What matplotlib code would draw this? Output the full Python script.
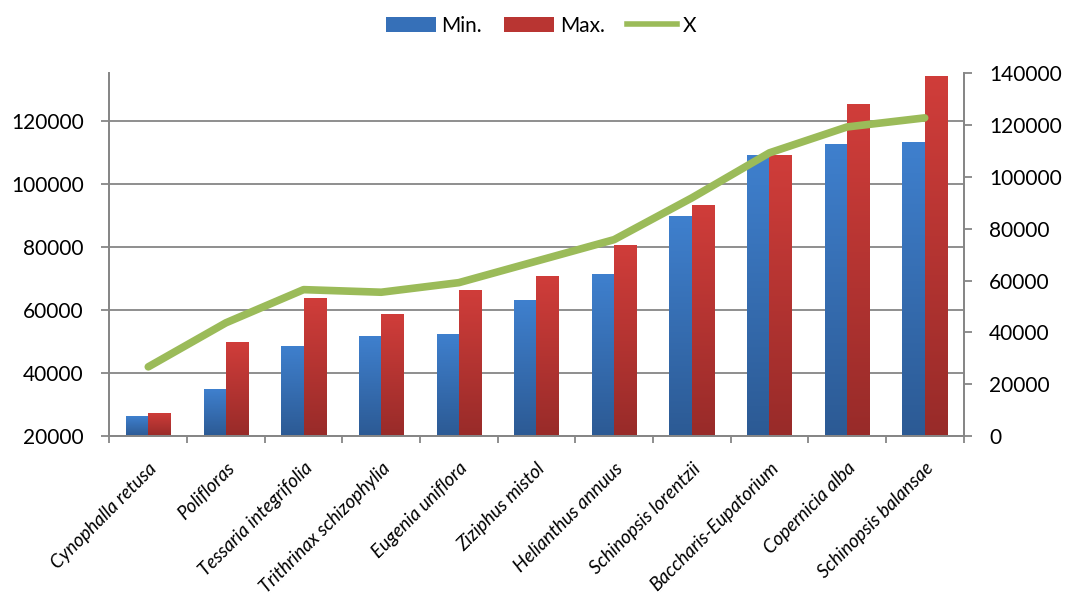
import numpy as np
import matplotlib.pyplot as plt
from matplotlib.colors import LinearSegmentedColormap
from matplotlib.patches import Patch
from matplotlib.lines import Line2D

plt.rcParams['font.family'] = ['Lato', 'DejaVu Sans']

species = ['Cynophalla retusa', 'Polifloras', 'Tessaria integrifolia',
           'Trithrinax schizophylia', 'Eugenia uniflora', 'Ziziphus mistol',
           'Helianthus annuus', 'Schinopsis lorentzii', 'Baccharis-Eupatorium',
           'Copernicia alba', 'Schinopsis balansae']
min_vals = [26200, 34900, 48600, 51600, 52500, 63000, 71300, 89700, 109000, 112700, 113100]
max_vals = [27400, 49800, 63700, 58600, 66400, 70800, 80500, 93300, 109000, 125200, 134300]
x_vals = [26700, 43700, 56500, 55500, 59200, 67500, 75800, 91900, 109300, 119300, 122800]

GRID = '#868686'
BLUE_CM = LinearSegmentedColormap.from_list('b', ['#2C5A94', '#3F80CE'])
RED_CM = LinearSegmentedColormap.from_list('r', ['#982B29', '#D03D3A'])


def gradient_bars(ax, xs, heights, width, cmap, base):
    bars = ax.bar(xs, np.array(heights) - base, width, bottom=base,
                  color=cmap(0.5), linewidth=0, zorder=2)
    grad = np.linspace(0, 1, 256).reshape(-1, 1)
    for b in bars:
        x0, y0 = b.get_x(), b.get_y()
        im = ax.imshow(grad, cmap=cmap, origin='lower', aspect='auto',
                       extent=[x0, x0 + b.get_width(), y0, y0 + b.get_height()],
                       zorder=2)
        im.set_clip_path(b)
    return bars


fig = plt.figure(figsize=(10.67, 5.99), dpi=100)
ax = fig.add_axes([0.1026, 0.2721, 0.8004, 0.6055])
ax2 = ax.twinx()

idx = np.arange(len(species))
w = 0.287
base = 20000
gradient_bars(ax, idx - w / 2, min_vals, w, BLUE_CM, base)
gradient_bars(ax, idx + w / 2, max_vals, w, RED_CM, base)

ax.set_xlim(-0.5, len(species) - 0.5)
ax.set_ylim(20000, 135000)
ax.set_yticks(np.arange(20000, 130000, 20000))
ax.grid(axis='y', color=GRID, linewidth=1.3, zorder=0)
ax.set_axisbelow(True)

ax2.plot(idx, x_vals, color='#9BBB59', linewidth=5.5, solid_capstyle='round',
         solid_joinstyle='round', zorder=3)
ax2.set_ylim(0, 140000)
ax2.set_yticks(np.arange(0, 140001, 20000))

ax.set_xticks(idx)
ax.set_xticklabels(species, rotation=45, ha='right', rotation_mode='anchor',
                   style='italic', fontsize=13.5)
ax.set_xticks(np.arange(-0.5, len(species), 1), minor=True)
ax.tick_params(axis='x', which='major', length=0, pad=17)
ax.tick_params(axis='x', which='minor', length=5, color=GRID, width=1.3)
ax.tick_params(axis='y', length=5.5, color=GRID, width=1.3, labelsize=15, pad=13)
ax2.tick_params(axis='y', length=5.5, color=GRID, width=1.3, labelsize=15, pad=13)

for a in (ax, ax2):
    a.spines['top'].set_visible(False)
    for s in ('left', 'right', 'bottom'):
        a.spines[s].set_color(GRID)
        a.spines[s].set_linewidth(1.3)

handles = [Patch(facecolor='#3670B8', label='Min.'),
           Patch(facecolor='#B93532', label='Max.'),
           Line2D([], [], color='#9BBB59', linewidth=4, label='X')]
fig.legend(handles=handles, loc='upper center', bbox_to_anchor=(0.507, 1.005),
           ncol=3, frameon=False, fontsize=15, handlelength=2.4,
           handleheight=0.75, handletextpad=0.25, columnspacing=1.1)

fig.savefig('out.png', dpi=100)
